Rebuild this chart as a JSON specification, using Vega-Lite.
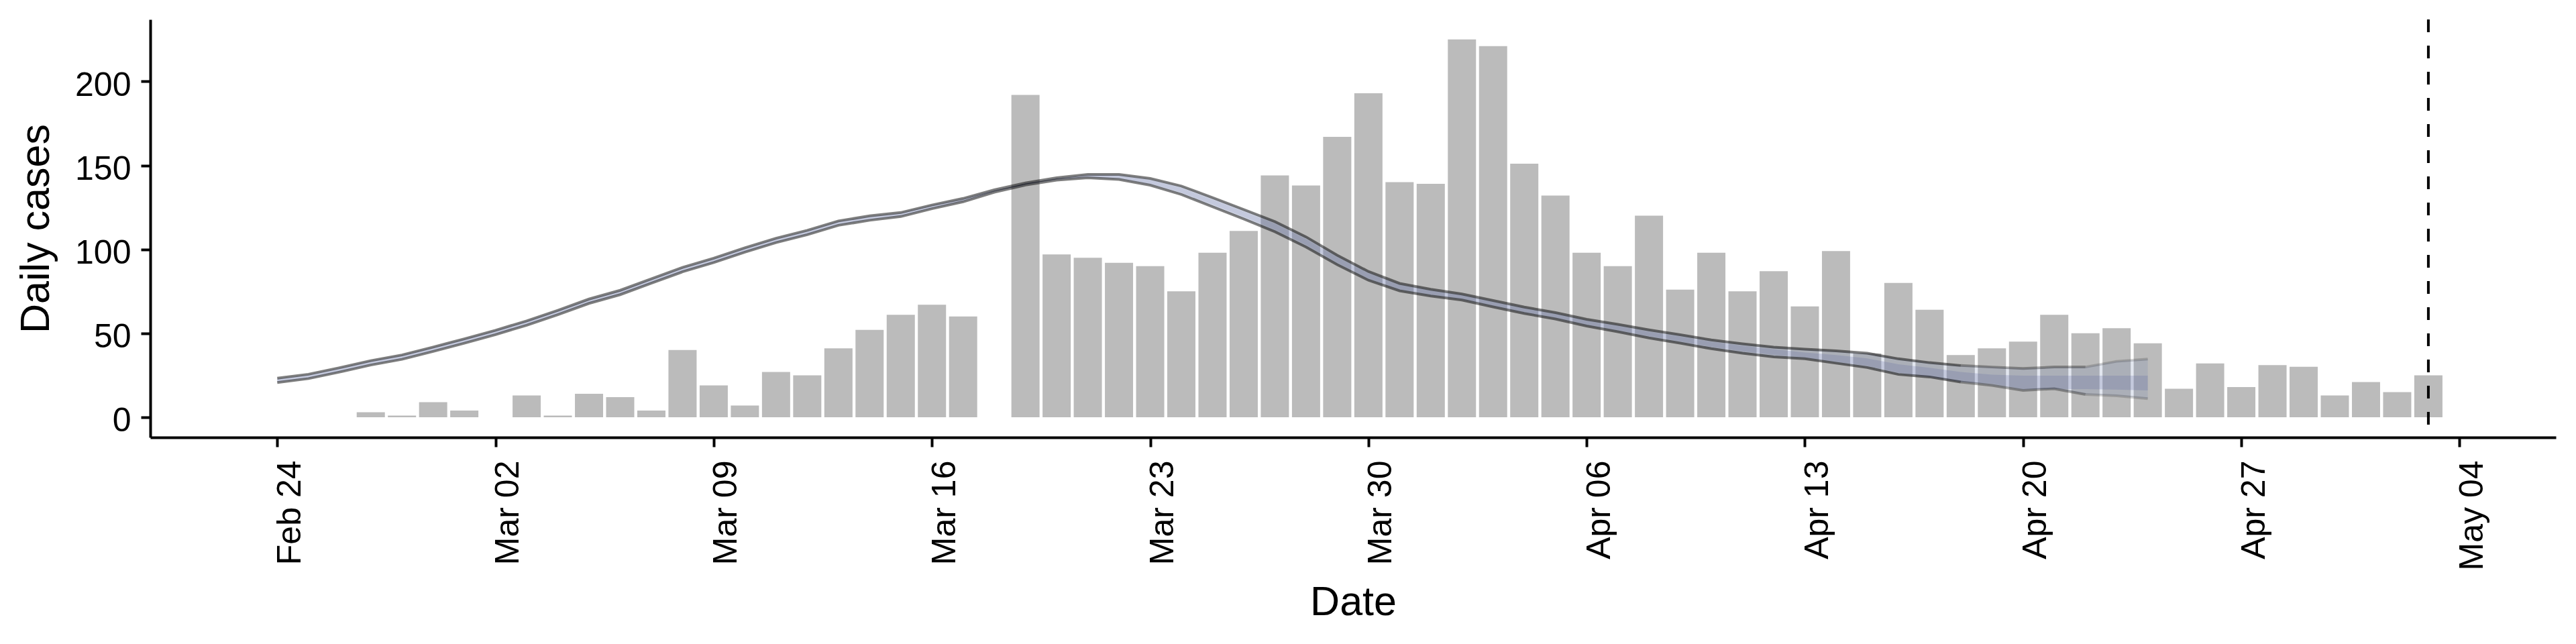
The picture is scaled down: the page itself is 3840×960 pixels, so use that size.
{
  "$schema": "https://vega.github.io/schema/vega-lite/v6.json",
  "width": 3586,
  "height": 623,
  "autosize": {"type": "none"},
  "padding": {"left": 224, "top": 29, "right": 30, "bottom": 308},
  "background": "white",
  "datasets": {
    "cases": [
      {"date": "2020-02-27", "cases": 3},
      {"date": "2020-02-28", "cases": 1},
      {"date": "2020-02-29", "cases": 9},
      {"date": "2020-03-01", "cases": 4},
      {"date": "2020-03-03", "cases": 13},
      {"date": "2020-03-04", "cases": 1},
      {"date": "2020-03-05", "cases": 14},
      {"date": "2020-03-06", "cases": 12},
      {"date": "2020-03-07", "cases": 4},
      {"date": "2020-03-08", "cases": 40},
      {"date": "2020-03-09", "cases": 19},
      {"date": "2020-03-10", "cases": 7},
      {"date": "2020-03-11", "cases": 27},
      {"date": "2020-03-12", "cases": 25},
      {"date": "2020-03-13", "cases": 41},
      {"date": "2020-03-14", "cases": 52},
      {"date": "2020-03-15", "cases": 61},
      {"date": "2020-03-16", "cases": 67},
      {"date": "2020-03-17", "cases": 60},
      {"date": "2020-03-19", "cases": 192},
      {"date": "2020-03-20", "cases": 97},
      {"date": "2020-03-21", "cases": 95},
      {"date": "2020-03-22", "cases": 92},
      {"date": "2020-03-23", "cases": 90},
      {"date": "2020-03-24", "cases": 75},
      {"date": "2020-03-25", "cases": 98},
      {"date": "2020-03-26", "cases": 111},
      {"date": "2020-03-27", "cases": 144},
      {"date": "2020-03-28", "cases": 138},
      {"date": "2020-03-29", "cases": 167},
      {"date": "2020-03-30", "cases": 193},
      {"date": "2020-03-31", "cases": 140},
      {"date": "2020-04-01", "cases": 139},
      {"date": "2020-04-02", "cases": 225},
      {"date": "2020-04-03", "cases": 221},
      {"date": "2020-04-04", "cases": 151},
      {"date": "2020-04-05", "cases": 132},
      {"date": "2020-04-06", "cases": 98},
      {"date": "2020-04-07", "cases": 90},
      {"date": "2020-04-08", "cases": 120},
      {"date": "2020-04-09", "cases": 76},
      {"date": "2020-04-10", "cases": 98},
      {"date": "2020-04-11", "cases": 75},
      {"date": "2020-04-12", "cases": 87},
      {"date": "2020-04-13", "cases": 66},
      {"date": "2020-04-14", "cases": 99},
      {"date": "2020-04-15", "cases": 38},
      {"date": "2020-04-16", "cases": 80},
      {"date": "2020-04-17", "cases": 64},
      {"date": "2020-04-18", "cases": 37},
      {"date": "2020-04-19", "cases": 41},
      {"date": "2020-04-20", "cases": 45},
      {"date": "2020-04-21", "cases": 61},
      {"date": "2020-04-22", "cases": 50},
      {"date": "2020-04-23", "cases": 53},
      {"date": "2020-04-24", "cases": 44},
      {"date": "2020-04-25", "cases": 17},
      {"date": "2020-04-26", "cases": 32},
      {"date": "2020-04-27", "cases": 18},
      {"date": "2020-04-28", "cases": 31},
      {"date": "2020-04-29", "cases": 30},
      {"date": "2020-04-30", "cases": 13},
      {"date": "2020-05-01", "cases": 21},
      {"date": "2020-05-02", "cases": 15},
      {"date": "2020-05-03", "cases": 25}
    ],
    "fit": [
      {"date": "2020-02-24", "lower": 20.7, "upper": 23.3, "lower50": 21.2, "upper50": 22.8},
      {"date": "2020-02-25", "lower": 23.0, "upper": 25.6, "lower50": 23.5, "upper50": 25.1},
      {"date": "2020-02-26", "lower": 26.9, "upper": 29.5, "lower50": 27.4, "upper50": 29.0},
      {"date": "2020-02-27", "lower": 31.1, "upper": 33.7, "lower50": 31.6, "upper50": 33.2},
      {"date": "2020-02-28", "lower": 34.5, "upper": 37.1, "lower50": 35.0, "upper50": 36.6},
      {"date": "2020-02-29", "lower": 39.2, "upper": 41.8, "lower50": 39.7, "upper50": 41.3},
      {"date": "2020-03-01", "lower": 44.1, "upper": 46.7, "lower50": 44.6, "upper50": 46.2},
      {"date": "2020-03-02", "lower": 49.2, "upper": 51.8, "lower50": 49.7, "upper50": 51.3},
      {"date": "2020-03-03", "lower": 54.8, "upper": 57.4, "lower50": 55.3, "upper50": 56.9},
      {"date": "2020-03-04", "lower": 61.1, "upper": 63.7, "lower50": 61.6, "upper50": 63.2},
      {"date": "2020-03-05", "lower": 67.8, "upper": 70.4, "lower50": 68.3, "upper50": 69.9},
      {"date": "2020-03-06", "lower": 73.0, "upper": 75.6, "lower50": 73.5, "upper50": 75.1},
      {"date": "2020-03-07", "lower": 79.8, "upper": 82.4, "lower50": 80.3, "upper50": 81.9},
      {"date": "2020-03-08", "lower": 86.6, "upper": 89.2, "lower50": 87.1, "upper50": 88.7},
      {"date": "2020-03-09", "lower": 92.1, "upper": 94.7, "lower50": 92.6, "upper50": 94.2},
      {"date": "2020-03-10", "lower": 98.3, "upper": 100.9, "lower50": 98.8, "upper50": 100.4},
      {"date": "2020-03-11", "lower": 104.0, "upper": 106.6, "lower50": 104.5, "upper50": 106.1},
      {"date": "2020-03-12", "lower": 108.7, "upper": 111.3, "lower50": 109.2, "upper50": 110.8},
      {"date": "2020-03-13", "lower": 114.3, "upper": 116.9, "lower50": 114.8, "upper50": 116.4},
      {"date": "2020-03-14", "lower": 117.3, "upper": 119.9, "lower50": 117.8, "upper50": 119.4},
      {"date": "2020-03-15", "lower": 119.5, "upper": 121.9, "lower50": 120.0, "upper50": 121.4},
      {"date": "2020-03-16", "lower": 124.2, "upper": 126.4, "lower50": 124.6, "upper50": 126.0},
      {"date": "2020-03-17", "lower": 128.3, "upper": 130.3, "lower50": 128.7, "upper50": 129.9},
      {"date": "2020-03-18", "lower": 134.0, "upper": 135.4, "lower50": 134.3, "upper50": 135.1},
      {"date": "2020-03-19", "lower": 138.3, "upper": 139.5, "lower50": 138.5, "upper50": 139.3},
      {"date": "2020-03-20", "lower": 141.2, "upper": 142.6, "lower50": 141.5, "upper50": 142.3},
      {"date": "2020-03-21", "lower": 142.6, "upper": 144.6, "lower50": 143.0, "upper50": 144.2},
      {"date": "2020-03-22", "lower": 141.6, "upper": 144.6, "lower50": 142.2, "upper50": 144.0},
      {"date": "2020-03-23", "lower": 138.2, "upper": 142.2, "lower50": 139.0, "upper50": 141.4},
      {"date": "2020-03-24", "lower": 132.7, "upper": 137.7, "lower50": 133.7, "upper50": 136.7},
      {"date": "2020-03-25", "lower": 125.4, "upper": 130.8, "lower50": 126.5, "upper50": 129.7},
      {"date": "2020-03-26", "lower": 118.1, "upper": 123.7, "lower50": 119.2, "upper50": 122.6},
      {"date": "2020-03-27", "lower": 110.5, "upper": 116.5, "lower50": 111.7, "upper50": 115.3},
      {"date": "2020-03-28", "lower": 101.4, "upper": 107.4, "lower50": 102.6, "upper50": 106.2},
      {"date": "2020-03-29", "lower": 90.9, "upper": 96.5, "lower50": 92.0, "upper50": 95.4},
      {"date": "2020-03-30", "lower": 81.6, "upper": 86.8, "lower50": 82.6, "upper50": 85.8},
      {"date": "2020-03-31", "lower": 75.3, "upper": 79.7, "lower50": 76.2, "upper50": 78.8},
      {"date": "2020-04-01", "lower": 72.2, "upper": 76.2, "lower50": 73.0, "upper50": 75.4},
      {"date": "2020-04-02", "lower": 69.8, "upper": 73.4, "lower50": 70.5, "upper50": 72.7},
      {"date": "2020-04-03", "lower": 65.7, "upper": 69.5, "lower50": 66.5, "upper50": 68.7},
      {"date": "2020-04-04", "lower": 61.8, "upper": 65.6, "lower50": 62.6, "upper50": 64.8},
      {"date": "2020-04-05", "lower": 58.5, "upper": 62.3, "lower50": 59.3, "upper50": 61.5},
      {"date": "2020-04-06", "lower": 54.3, "upper": 58.3, "lower50": 55.1, "upper50": 57.5},
      {"date": "2020-04-07", "lower": 50.9, "upper": 55.3, "lower50": 51.8, "upper50": 54.4},
      {"date": "2020-04-08", "lower": 47.2, "upper": 52.0, "lower50": 48.2, "upper50": 51.0},
      {"date": "2020-04-09", "lower": 44.1, "upper": 49.1, "lower50": 45.1, "upper50": 48.1},
      {"date": "2020-04-10", "lower": 40.8, "upper": 46.0, "lower50": 41.8, "upper50": 45.0},
      {"date": "2020-04-11", "lower": 38.1, "upper": 43.7, "lower50": 39.2, "upper50": 42.6},
      {"date": "2020-04-12", "lower": 35.9, "upper": 41.7, "lower50": 37.1, "upper50": 40.5},
      {"date": "2020-04-13", "lower": 34.8, "upper": 40.5, "lower50": 35.5, "upper50": 38.5},
      {"date": "2020-04-14", "lower": 32.2, "upper": 39.5, "lower50": 33.0, "upper50": 37.0},
      {"date": "2020-04-15", "lower": 29.6, "upper": 38.1, "lower50": 30.5, "upper50": 35.0},
      {"date": "2020-04-16", "lower": 25.5, "upper": 34.8, "lower50": 26.5, "upper50": 31.5},
      {"date": "2020-04-17", "lower": 24.0, "upper": 32.5, "lower50": 24.0, "upper50": 29.5},
      {"date": "2020-04-18", "lower": 21.0, "upper": 30.8, "lower50": 21.0, "upper50": 27.0},
      {"date": "2020-04-19", "lower": 19.0, "upper": 29.9, "lower50": 20.0, "upper50": 25.4},
      {"date": "2020-04-20", "lower": 16.0, "upper": 29.1, "lower50": 16.8, "upper50": 24.8},
      {"date": "2020-04-21", "lower": 17.0, "upper": 29.9, "lower50": 16.8, "upper50": 24.8},
      {"date": "2020-04-22", "lower": 13.6, "upper": 29.9, "lower50": 16.8, "upper50": 24.8},
      {"date": "2020-04-23", "lower": 12.8, "upper": 33.3, "lower50": 16.5, "upper50": 24.8},
      {"date": "2020-04-24", "lower": 11.1, "upper": 34.6, "lower50": 16.0, "upper50": 24.8}
    ],
    "cutoff": [{"date": "2020-05-03"}]
  },
  "encoding": {
    "x": {
      "field": "date",
      "type": "temporal",
      "title": "Date",
      "scale": {
        "type": "utc",
        "domain": [
          {"year": 2020, "month": 2, "date": 20, "hours": 0, "minutes": 49, "utc": true},
          {"year": 2020, "month": 5, "date": 6, "hours": 23, "minutes": 35, "utc": true}
        ]
      },
      "axis": {
        "values": [
          {"year": 2020, "month": 2, "date": 24, "utc": true},
          {"year": 2020, "month": 3, "date": 2, "utc": true},
          {"year": 2020, "month": 3, "date": 9, "utc": true},
          {"year": 2020, "month": 3, "date": 16, "utc": true},
          {"year": 2020, "month": 3, "date": 23, "utc": true},
          {"year": 2020, "month": 3, "date": 30, "utc": true},
          {"year": 2020, "month": 4, "date": 6, "utc": true},
          {"year": 2020, "month": 4, "date": 13, "utc": true},
          {"year": 2020, "month": 4, "date": 20, "utc": true},
          {"year": 2020, "month": 4, "date": 27, "utc": true},
          {"year": 2020, "month": 5, "date": 4, "utc": true}
        ],
        "format": "%b %d",
        "labelAngle": 270,
        "labelAlign": "right",
        "labelBaseline": "top",
        "labelPadding": 20,
        "labelOffset": -6,
        "titlePadding": 19,
        "labelOverlap": false,
        "labelFlush": false
      }
    }
  },
  "layer": [
    {
      "data": {"name": "cases"},
      "mark": {"type": "bar", "color": "#bbbbbb", "size": 42},
      "encoding": {
        "y": {
          "field": "cases",
          "type": "quantitative",
          "title": "Daily cases",
          "scale": {"domain": [-12, 236.9], "nice": false, "zero": false},
          "axis": {
            "values": [0, 50, 100, 150, 200],
            "labelPadding": 15,
            "labelOffset": 6,
            "titlePadding": 26
          }
        }
      }
    },
    {
      "data": {"name": "fit"},
      "mark": {"type": "area", "color": "#7080b0", "opacity": 0.2},
      "encoding": {
        "y": {"field": "lower", "type": "quantitative", "title": "Daily cases"},
        "y2": {"field": "upper"}
      }
    },
    {
      "data": {"name": "fit"},
      "mark": {"type": "area", "color": "#5a66a0", "opacity": 0.22},
      "encoding": {
        "y": {"field": "lower50", "type": "quantitative", "title": "Daily cases"},
        "y2": {"field": "upper50"}
      }
    },
    {
      "data": {"name": "fit"},
      "transform": [
        {"filter": "time(datum.date) <= utc(2020, 3, 18)"},
        {"fold": ["upper", "lower"], "as": ["bound", "value"]}
      ],
      "mark": {"type": "line", "color": "black", "opacity": 0.5, "strokeWidth": 4},
      "encoding": {
        "y": {"field": "value", "type": "quantitative", "title": "Daily cases"},
        "detail": {"field": "bound"}
      }
    },
    {
      "data": {"name": "fit"},
      "transform": [
        {"filter": "time(datum.date) >= utc(2020, 3, 18) && time(datum.date) <= utc(2020, 3, 22)"},
        {"fold": ["upper", "lower"], "as": ["bound", "value"]}
      ],
      "mark": {"type": "line", "color": "black", "opacity": 0.32, "strokeWidth": 4},
      "encoding": {
        "y": {"field": "value", "type": "quantitative", "title": "Daily cases"},
        "detail": {"field": "bound"}
      }
    },
    {
      "data": {"name": "fit"},
      "transform": [
        {"filter": "time(datum.date) >= utc(2020, 3, 22)"},
        {"fold": ["upper", "lower"], "as": ["bound", "value"]}
      ],
      "mark": {"type": "line", "color": "black", "opacity": 0.17, "strokeWidth": 4},
      "encoding": {
        "y": {"field": "value", "type": "quantitative", "title": "Daily cases"},
        "detail": {"field": "bound"}
      }
    },
    {
      "data": {"name": "cutoff"},
      "mark": {"type": "rule", "color": "black", "strokeWidth": 4, "strokeDash": [19, 20]},
      "encoding": {}
    }
  ],
  "config": {
    "view": {"stroke": null},
    "font": "Liberation Sans",
    "axis": {
      "grid": false,
      "domainColor": "black",
      "domainWidth": 4,
      "tickColor": "black",
      "tickWidth": 4,
      "tickSize": 14,
      "labelColor": "black",
      "labelFont": "Liberation Sans",
      "labelFontSize": 50,
      "titleColor": "black",
      "titleFont": "Liberation Sans",
      "titleFontSize": 61,
      "titleFontWeight": "normal"
    }
  }
}
